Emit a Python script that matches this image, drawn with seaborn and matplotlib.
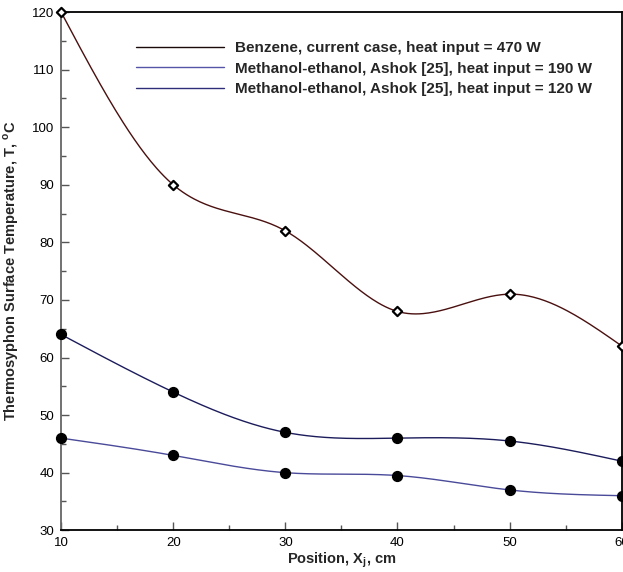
import numpy as np
import pandas as pd
import matplotlib
matplotlib.use("Agg")
import matplotlib.pyplot as plt
import seaborn as sns

# ---- data ----
positions = [10, 20, 30, 40, 50, 60]
benzene_470 = [120, 90, 82, 68, 71, 62]
meth_190 = [64, 54, 47, 46, 45.5, 42]
meth_120 = [46, 43, 40, 39.5, 37, 36]
labels = ["Benzene, current case, heat input = 470 W",
          "Methanol-ethanol, Ashok [25], heat input = 190 W",
          "Methanol-ethanol, Ashok [25], heat input = 120 W"]
x_ticks = [10, 20, 30, 40, 50, 60]
y_ticks = [30, 40, 50, 60, 70, 80, 90, 100, 110, 120]


def natural_spline(x, y, n=300):
    x = np.asarray(x, float); y = np.asarray(y, float)
    m = len(x); h = np.diff(x)
    A = np.zeros((m, m)); b = np.zeros(m)
    A[0, 0] = A[-1, -1] = 1
    for i in range(1, m - 1):
        A[i, i - 1] = h[i - 1]; A[i, i] = 2 * (h[i - 1] + h[i]); A[i, i + 1] = h[i]
        b[i] = 3 * ((y[i + 1] - y[i]) / h[i] - (y[i] - y[i - 1]) / h[i - 1])
    c = np.linalg.solve(A, b)
    xs = np.linspace(x[0], x[-1], n)
    idx = np.clip(np.searchsorted(x, xs) - 1, 0, m - 2)
    dx = xs - x[idx]
    bb = (y[1:] - y[:-1]) / h - h * (2 * c[:-1] + c[1:]) / 3
    d = (c[1:] - c[:-1]) / (3 * h)
    ys = y[idx] + bb[idx] * dx + c[idx] * dx ** 2 + d[idx] * dx ** 3
    return xs, ys


sns.set_theme(style="white")
plt.rcParams['font.family'] = ['Liberation Sans', 'DejaVu Sans']

fig = plt.figure(figsize=(6.23, 5.72), dpi=100)
ax = fig.add_axes([0.098, 0.073, 0.9, 0.906])

series = [benzene_470, meth_190, meth_120]
colors = ['#4a1010', '#1c1c5c', '#4a4a9a']
legend_colors = ['#1a0a0a', '#5555a8', '#2e2e78']
for vals, col, lab in zip(series, colors, labels):
    xs, ys = natural_spline(positions, vals)
    df = pd.DataFrame({'x': xs, 'y': ys})
    sns.lineplot(data=df, x='x', y='y', ax=ax, color=col, lw=1.0, label=lab,
                 sort=False, estimator=None)

# markers
ax.scatter(positions, benzene_470, marker='D', s=22, facecolor='white',
           edgecolor='black', linewidth=1.6, zorder=5, clip_on=False)
ax.scatter(positions, meth_190, marker='o', s=50, color='black', zorder=5, clip_on=False)
ax.scatter(positions, meth_120, marker='o', s=50, color='black', zorder=5, clip_on=False)

ax.set_xlim(10, 60)
ax.set_ylim(30, 120)
ax.set_xticks(x_ticks)
ax.set_yticks(y_ticks)
ax.set_xticks(np.arange(15, 60, 10), minor=True)
ax.set_yticks(np.arange(35, 120, 10), minor=True)
ax.tick_params(axis='both', which='both', direction='in', labelsize=9.5,
               colors='#555555', labelcolor='black', pad=5)
ax.tick_params(which='major', length=6, width=1)
ax.tick_params(which='minor', length=3.5, width=1)
ax.tick_params(axis='x', which='both', bottom=True)
ax.tick_params(axis='y', which='both', left=True)

for s in ['top', 'right', 'bottom']:
    ax.spines[s].set_color('black')
    ax.spines[s].set_linewidth(1.3)
ax.spines['left'].set_color('#666666')
ax.spines['left'].set_linewidth(1.3)

ax.set_xlabel('Position, X$_\\mathregular{j}$, cm', fontsize=10.5, fontweight='bold', labelpad=1)
ax.set_ylabel('Thermosyphon Surface Temperature, T, $^\\mathregular{o}$C', fontsize=10.5,
              fontweight='bold', labelpad=8)

leg = ax.legend(loc='upper left', bbox_to_anchor=(0.11, 0.97), frameon=False,
                handlelength=5.7, handletextpad=0.75, labelspacing=0.42,
                prop={'weight': 'bold', 'size': 11})
for h, c in zip(leg.get_lines(), legend_colors):
    h.set_color(c)

fig.savefig('out.png', dpi=100)
